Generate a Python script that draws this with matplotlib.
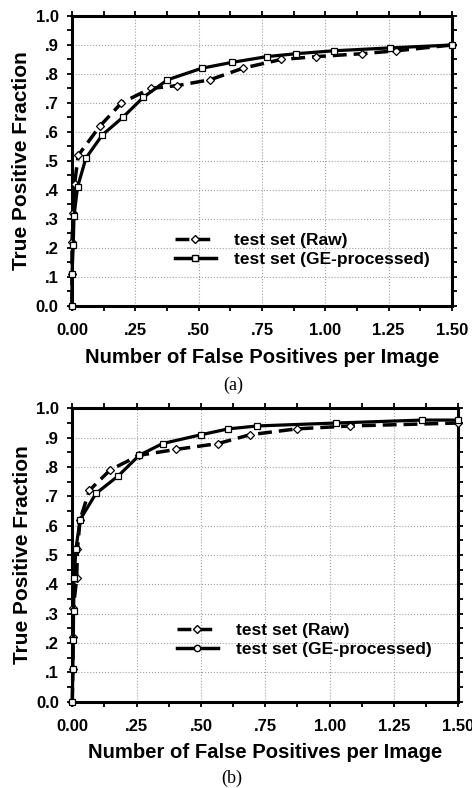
import matplotlib
matplotlib.use("Agg")
import matplotlib.pyplot as plt
from matplotlib.lines import Line2D
from matplotlib.ticker import MultipleLocator, FixedFormatter, FixedLocator

plt.rcParams['font.family'] = ['Liberation Sans', 'DejaVu Sans']
plt.rcParams['font.weight'] = 'bold'

# panel (a)
a_raw_x = [0, 0, 0, 0.005, 0.01, 0.025, 0.11, 0.195, 0.31, 0.415, 0.545, 0.675, 0.825, 0.965, 1.145, 1.28, 1.50]
a_raw_y = [0, .11, .22, .32, .42, .52, .62, .70, .75, .76, .78, .82, .85, .86, .87, .88, .90]
a_ge_x = [0, 0, 0.005, 0.008, 0.022, 0.055, 0.12, 0.20, 0.282, 0.377, 0.513, 0.631, 0.77, 0.885, 1.033, 1.257, 1.50]
a_ge_y = [0, .11, .21, .31, .41, .51, .59, .65, .72, .78, .82, .84, .86, .87, .88, .89, .90]

# panel (b)
b_raw_x = [0, 0.002, 0.003, 0.004, 0.017, 0.02, 0.03, 0.066, 0.147, 0.26, 0.403, 0.567, 0.69, 0.872, 1.079, 1.50]
b_raw_y = [0, .11, .22, .32, .42, .52, .62, .72, .79, .84, .86, .88, .91, .93, .94, .95]
b_ge_x = [0, 0.002, 0.004, 0.005, 0.007, 0.014, 0.03, 0.092, 0.179, 0.26, 0.351, 0.50, 0.606, 0.719, 1.026, 1.358, 1.50]
b_ge_y = [0, .11, .21, .31, .42, .52, .62, .71, .77, .84, .88, .91, .93, .94, .95, .96, .96]

x_ticks = [0, .25, .5, .75, 1.0, 1.25, 1.5]
x_labels = ['0.00', '.25', '.50', '.75', '1.00', '1.25', '1.50']
y_ticks = [0, .1, .2, .3, .4, .5, .6, .7, .8, .9, 1.0]
y_labels = ['0.0', '.1', '.2', '.3', '.4', '.5', '.6', '.7', '.8', '.9', '1.0']

labels = ['test set (Raw)', 'test set (GE-processed)']

fig = plt.figure(figsize=(4.72, 7.88), dpi=100)
ax_a = fig.add_axes([0.1525, 0.6117, 0.8051, 0.368])
ax_b = fig.add_axes([0.1532, 0.1095, 0.8178, 0.3723])


def style(ax):
    ax.set_xlim(0, 1.5)
    ax.set_ylim(0, 1.0)
    ax.xaxis.set_major_locator(FixedLocator(x_ticks))
    ax.xaxis.set_major_formatter(FixedFormatter(x_labels))
    ax.xaxis.set_minor_locator(MultipleLocator(0.125))
    ax.yaxis.set_major_locator(FixedLocator(y_ticks))
    ax.yaxis.set_major_formatter(FixedFormatter(y_labels))
    ax.yaxis.set_minor_locator(MultipleLocator(0.05))
    ax.tick_params(which='both', direction='out', length=3.6, width=1.3,
                   top=True, right=True)
    ax.tick_params(axis='x', labelsize=12, pad=8.5)
    ax.tick_params(axis='y', labelsize=12, pad=6)
    for s in ax.spines.values():
        s.set_linewidth(2.2)
    ax.grid(True, which='major', linestyle=':', color='#a0a0a0', linewidth=0.8)
    ax.set_axisbelow(True)
    for t in ax.get_xticklabels() + ax.get_yticklabels():
        t.set_fontweight('bold')
    ax.set_xlabel('Number of False Positives per Image', fontsize=14.6,
                  fontweight='bold', labelpad=7)
    ax.set_ylabel('True Positive Fraction', fontsize=15, fontweight='bold',
                  labelpad=3)


def draw(ax, rx, ry, gx, gy, ge_legend_marker, leg_y):
    ax.plot(rx, ry, color='black', lw=2.5, dashes=(4, 2), marker='D',
            markersize=4, markerfacecolor='white', markeredgecolor='black',
            markeredgewidth=0.9, clip_on=False, zorder=3)
    ax.plot(gx, gy, color='black', lw=2.3, marker='s', markersize=4.5,
            markerfacecolor='white', markeredgecolor='black',
            markeredgewidth=0.9, clip_on=False, zorder=4)
    handles = [
        Line2D([], [], color='black', lw=2.5, dashes=(4, 2), marker='D',
               markersize=4, markerfacecolor='white', markeredgecolor='black'),
        Line2D([], [], color='black', lw=2.5, marker=ge_legend_marker,
               markersize=4.5, markerfacecolor='white', markeredgecolor='black'),
    ]
    leg = ax.legend(handles, labels, loc='center left',
                    bbox_to_anchor=(0.27, leg_y), frameon=False,
                    prop={'size': 12.5, 'weight': 'bold'},
                    handlelength=2.4, handletextpad=1.0, labelspacing=0.2,
                    borderpad=0, borderaxespad=0)
    leg.set_zorder(5)


style(ax_a)
style(ax_b)
draw(ax_a, a_raw_x, a_raw_y, a_ge_x, a_ge_y, 's', 0.194)
draw(ax_b, b_raw_x, b_raw_y, b_ge_x, b_ge_y, 'o', 0.21)

fig.text(0.494, 0.511, '(a)', ha='center', va='center', fontsize=13,
         family=['Liberation Serif', 'DejaVu Serif'], fontweight='normal')
fig.text(0.492, 0.012, '(b)', ha='center', va='center', fontsize=13,
         family=['Liberation Serif', 'DejaVu Serif'], fontweight='normal')

fig.savefig('out.png', dpi=100)
